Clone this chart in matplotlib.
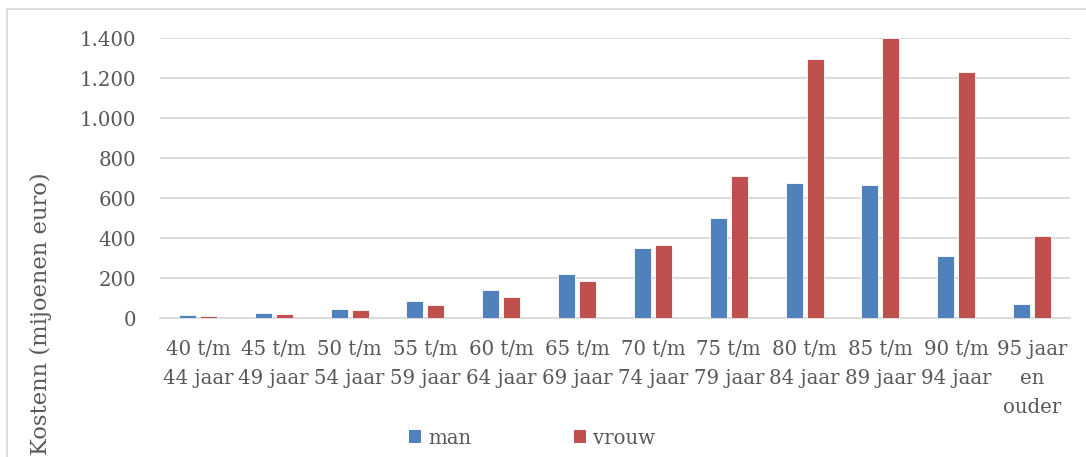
import matplotlib
matplotlib.use("Agg")
import matplotlib.pyplot as plt
from matplotlib.ticker import FuncFormatter, MultipleLocator
from matplotlib.lines import Line2D
from matplotlib.patches import Patch
import numpy as np

categories = ["40 t/m\n44 jaar", "45 t/m\n49 jaar", "50 t/m\n54 jaar", "55 t/m\n59 jaar",
              "60 t/m\n64 jaar", "65 t/m\n69 jaar", "70 t/m\n74 jaar", "75 t/m\n79 jaar",
              "80 t/m\n84 jaar", "85 t/m\n89 jaar", "90 t/m\n94 jaar", "95 jaar\nen\nouder"]
man = [13, 25, 45, 85, 140, 218, 348, 500, 673, 663, 312, 68]
vrouw = [10, 20, 38, 66, 103, 187, 365, 710, 1293, 1400, 1228, 410]

blue = "#4F81BD"
red = "#C0504D"
txt = "#595959"
grid = "#D9D9D9"

plt.rcParams['font.family'] = ['DejaVu Serif']

W, H = 1086, 457
fig = plt.figure(figsize=(W/100, H/100), dpi=100)
ax = fig.add_axes([160/W, 1-318/H, (1070-160)/W, (318-38)/H])

x = np.arange(len(categories))
bw = 0.225
off = 0.138
ax.bar(x - off, man, bw, color=blue, edgecolor="white", linewidth=0.6, label="man", zorder=3)
ax.bar(x + off, vrouw, bw, color=red, edgecolor="white", linewidth=0.6, label="vrouw", zorder=3)

ax.set_xlim(-0.5, len(categories) - 0.5)
ax.set_ylim(0, 1400)
ax.yaxis.set_major_locator(MultipleLocator(200))
ax.yaxis.set_major_formatter(FuncFormatter(lambda v, p: f"{int(v):,}".replace(",", ".")))
ax.grid(axis="y", color=grid, linewidth=1.3, zorder=0)
ax.set_axisbelow(True)
for s in ["top", "right", "left"]:
    ax.spines[s].set_visible(False)
ax.spines["bottom"].set_color(grid)
ax.spines["bottom"].set_linewidth(1.3)
ax.set_xticks(x)
ax.set_xticklabels(categories, linespacing=1.68)
ax.tick_params(axis="both", length=0, colors=txt, labelsize=14.2)
ax.tick_params(axis="y", pad=17)
ax.tick_params(axis="x", pad=15.5)

# outer chart frame (partially visible)
fig.add_artist(Line2D([7/W, 7/W], [0, 1-9/H], transform=fig.transFigure, color=grid, linewidth=1.3))
fig.add_artist(Line2D([7/W, 1], [1-9/H, 1-9/H], transform=fig.transFigure, color=grid, linewidth=1.3))

fig.text(41/W, 1-172/H, "Kostenn (mijoenen euro)", rotation=90, ha="center", va="top",
         color=txt, fontsize=16.3)

handles = [Patch(facecolor=blue, edgecolor="none"), Patch(facecolor=red, edgecolor="none")]
fig.legend(handles, ["man", "vrouw"], loc="center", bbox_to_anchor=(532/W, 1-438/H), ncol=2,
           frameon=False, handlelength=0.6, handleheight=0.6, handletextpad=0.35,
           columnspacing=5.2, labelcolor=txt, fontsize=14.2)

fig.savefig("out.png", dpi=100)
